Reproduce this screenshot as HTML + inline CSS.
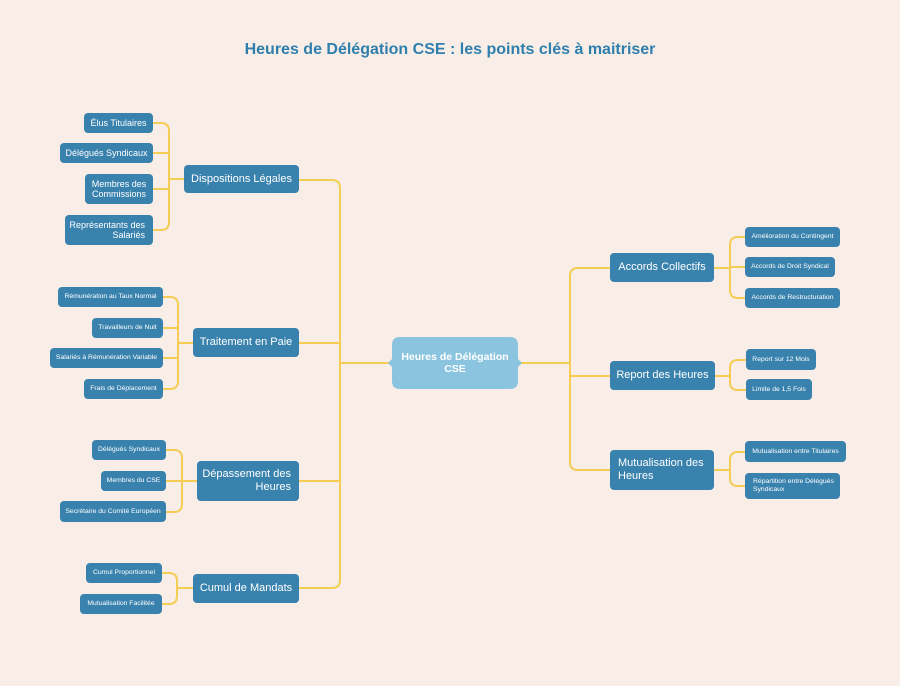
<!DOCTYPE html>
<html><head><meta charset="utf-8"><style>
body{margin:0;width:900px;height:686px;background:#f8eee7;position:relative;overflow:hidden;font-family:"Liberation Sans",sans-serif}
.n{position:absolute;background:#3982ad;color:#fff;border-radius:4px;display:flex;align-items:center;justify-content:center;text-align:center;line-height:1.15;box-sizing:border-box;padding:0 4px;white-space:nowrap}
.m{font-size:11px}.l{font-size:9px}.s{font-size:6.8px}
.r{text-align:right;justify-content:flex-end;padding-right:8px}
.lt{text-align:left;justify-content:flex-start;padding-left:8px}
h1{position:absolute;top:41px;left:0;width:900px;margin:0;text-align:center;font-size:16px;color:#2f7fae;font-weight:bold}
svg{position:absolute;left:0;top:0}
</style></head><body>
<h1>Heures de Délégation CSE : les points clés à maitriser</h1>
<svg width="900" height="686" fill="none" stroke="#f5cd55" stroke-width="2">
<path d="M299 180H332Q340 180 340 188V580Q340 588 332 588H299"/>
<path d="M299 343H340M299 481H340M340 363H390M520 363H570"/>
<path d="M610 268H578Q570 268 570 276V462Q570 470 578 470H610M570 376H610"/>
<path d="M153 123H161Q169 123 169 131V222Q169 230 161 230H153M153 153H169M153 189H169M169 179H184"/>
<path d="M163 297H170Q178 297 178 305V381Q178 389 170 389H163M163 328H178M163 358H178M178 343H193"/>
<path d="M166 450H174Q182 450 182 458V504Q182 512 174 512H166M166 481H197"/>
<path d="M162 573H169Q177 573 177 581V596Q177 604 169 604H162M177 588H193"/>
<path d="M714 268H730M745 237H738Q730 237 730 245V290Q730 298 738 298H745M730 267H745"/>
<path d="M715 376H730M746 360H738Q730 360 730 368V382Q730 390 738 390H746"/>
<path d="M714 470H730M745 452H738Q730 452 730 460V478Q730 486 738 486H745"/>
</svg>
<svg width="900" height="686"><path d="M400 337H510Q518 337 518 345V359L522 363L518 367V381Q518 389 510 389H400Q392 389 392 381V367L388 363L392 359V345Q392 337 400 337Z" fill="#8bc4df"/></svg>
<div class="n" style="left:390px;top:337px;width:130px;height:52px;background:transparent;font-size:10.5px;font-weight:bold">Heures de Délégation<br>CSE</div>
<div class="n m" style="left:184px;top:165px;width:115px;height:28px">Dispositions Légales</div>
<div class="n m" style="left:193px;top:328px;width:106px;height:29px">Traitement en Paie</div>
<div class="n m r" style="left:197px;top:461px;width:102px;height:40px">Dépassement des<br>Heures</div>
<div class="n m" style="left:193px;top:574px;width:106px;height:29px">Cumul de Mandats</div>
<div class="n m" style="left:610px;top:253px;width:104px;height:29px">Accords Collectifs</div>
<div class="n m" style="left:610px;top:361px;width:105px;height:29px">Report des Heures</div>
<div class="n m lt" style="left:610px;top:450px;width:104px;height:40px">Mutualisation des<br>Heures</div>
<div class="n l" style="left:84px;top:113px;width:69px;height:20px">Élus Titulaires</div>
<div class="n l" style="left:60px;top:143px;width:93px;height:20px">Délégués Syndicaux</div>
<div class="n l" style="left:85px;top:174px;width:68px;height:30px">Membres des<br>Commissions</div>
<div class="n l r" style="left:65px;top:215px;width:88px;height:30px">Représentants des<br>Salariés</div>
<div class="n s" style="left:58px;top:287px;width:105px;height:20px">Rémunération au Taux Normal</div>
<div class="n s" style="left:92px;top:318px;width:71px;height:20px">Travailleurs de Nuit</div>
<div class="n s" style="left:50px;top:348px;width:113px;height:20px">Salariés à Rémunération Variable</div>
<div class="n s" style="left:84px;top:379px;width:79px;height:20px">Frais de Déplacement</div>
<div class="n s" style="left:92px;top:440px;width:74px;height:20px">Délégués Syndicaux</div>
<div class="n s" style="left:101px;top:471px;width:65px;height:20px">Membres du CSE</div>
<div class="n s" style="left:60px;top:501px;width:106px;height:21px">Secrétaire du Comité Européen</div>
<div class="n s" style="left:86px;top:563px;width:76px;height:20px">Cumul Proportionnel</div>
<div class="n s" style="left:80px;top:594px;width:82px;height:20px">Mutualisation Facilitée</div>
<div class="n s" style="left:745px;top:227px;width:95px;height:20px">Amélioration du Contingent</div>
<div class="n s" style="left:745px;top:257px;width:90px;height:20px">Accords de Droit Syndical</div>
<div class="n s" style="left:745px;top:288px;width:95px;height:20px">Accords de Restructuration</div>
<div class="n s" style="left:746px;top:349px;width:70px;height:21px">Report sur 12 Mois</div>
<div class="n s" style="left:746px;top:379px;width:66px;height:21px">Limite de 1,5 Fois</div>
<div class="n s" style="left:745px;top:441px;width:101px;height:21px">Mutualisation entre Titulaires</div>
<div class="n s lt" style="left:745px;top:473px;width:95px;height:26px">Répartition entre Délégués<br>Syndicaux</div>
</body></html>
